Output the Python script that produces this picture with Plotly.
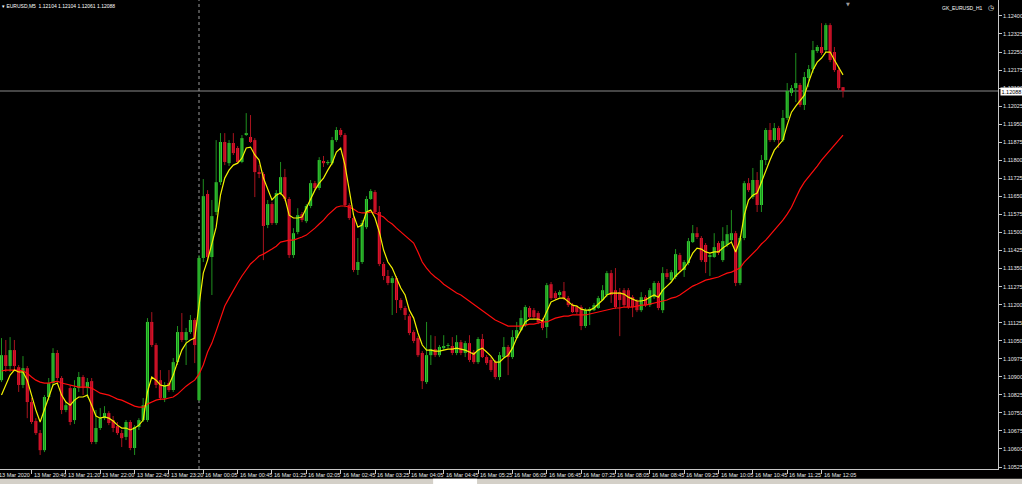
import plotly.graph_objects as go
import pandas as pd

symbol = "EURUSD,M5"
indicator_name = "GK_EURUSD_H1"

open_ = [1.10886,1.10990,1.10945,1.11011,1.10940,1.10866,1.10936,1.10795,1.10716,1.10666,
1.10595,1.10816,1.10874,1.10999,1.10895,1.10762,1.10853,1.10720,1.10853,1.10899,
1.10853,1.10882,1.10629,1.10687,1.10728,1.10749,1.10720,1.10695,1.10666,1.10650,
1.10712,1.10604,1.10691,1.10720,1.10720,1.11128,1.11032,1.10886,1.10812,1.10874,
1.10845,1.10961,1.11086,1.11053,1.11086,1.11136,1.10803,1.11394,1.11660,1.11398,
1.11585,1.11709,1.11876,1.11788,1.11872,1.11851,1.11793,1.11905,1.11897,1.11884,
1.11751,1.11743,1.11531,1.11618,1.11539,1.11664,1.11730,1.11639,1.11406,1.11502,
1.11576,1.11547,1.11610,1.11705,1.11685,1.11797,1.11788,1.11788,1.11884,1.11926,
1.11905,1.11614,1.11560,1.11344,1.11377,1.11522,1.11639,1.11668,1.11585,1.11369,
1.11319,1.11290,1.11310,1.11219,1.11186,1.11152,1.11086,1.11061,1.10999,1.10878,
1.10990,1.11015,1.10990,1.11019,1.11028,1.11028,1.10999,1.11044,1.10999,1.11040,
1.11003,1.10961,1.11057,1.10982,1.10970,1.10961,1.10899,1.10982,1.11024,1.10982,
1.11061,1.11094,1.11115,1.11186,1.11177,1.11165,1.11136,1.11107,1.11285,1.11248,
1.11240,1.11256,1.11227,1.11198,1.11190,1.11190,1.11111,1.11173,1.11177,1.11186,
1.11219,1.11240,1.11331,1.11260,1.11252,1.11260,1.11260,1.11231,1.11215,1.11177,
1.11231,1.11198,1.11231,1.11290,1.11177,1.11331,1.11302,1.11315,1.11406,1.11344,
1.11373,1.11460,1.11497,1.11477,1.11448,1.11398,1.11398,1.11456,1.11385,1.11448,
1.11468,1.11497,1.11290,1.11477,1.11705,1.11647,1.11718,1.11614,1.11801,1.11926,
1.11884,1.11934,1.11884,1.11976,1.12080,1.12100,1.12113,1.12030,1.12142,1.12179,
1.12254,1.12271,1.12258,1.12362,1.12250,1.12175,1.12104]

high = [1.11061,1.11053,1.11065,1.11053,1.10949,1.10986,1.10945,1.10812,1.10728,1.10679,
1.10824,1.10895,1.11019,1.11011,1.10903,1.10795,1.10866,1.10886,1.10920,1.10907,
1.10895,1.10895,1.10762,1.10770,1.10778,1.10757,1.10737,1.10712,1.10679,1.10720,
1.10720,1.10699,1.10728,1.10812,1.11144,1.11169,1.11040,1.10928,1.10878,1.10928,
1.10978,1.11111,1.11165,1.11103,1.11157,1.11144,1.11406,1.11722,1.11676,1.11635,
1.11884,1.11913,1.11913,1.11884,1.11913,1.11859,1.11905,1.11996,1.11988,1.11892,
1.11780,1.11751,1.11635,1.11626,1.11676,1.11793,1.11764,1.11647,1.11518,1.11601,
1.11585,1.11618,1.11718,1.11714,1.11813,1.11818,1.11801,1.11897,1.11938,1.11934,
1.11913,1.11622,1.11568,1.11477,1.11552,1.11651,1.11680,1.11676,1.11610,1.11377,
1.11344,1.11319,1.11319,1.11227,1.11194,1.11161,1.11094,1.11069,1.11007,1.11128,
1.11073,1.11069,1.11032,1.11073,1.11040,1.11065,1.11073,1.11053,1.11049,1.11073,
1.11011,1.11065,1.11078,1.10990,1.10982,1.10970,1.11003,1.11065,1.11032,1.11094,
1.11128,1.11177,1.11198,1.11194,1.11186,1.11173,1.11144,1.11290,1.11294,1.11256,
1.11260,1.11294,1.11236,1.11207,1.11198,1.11198,1.11186,1.11190,1.11207,1.11236,
1.11281,1.11340,1.11344,1.11352,1.11269,1.11269,1.11269,1.11240,1.11223,1.11252,
1.11240,1.11269,1.11298,1.11298,1.11356,1.11348,1.11344,1.11431,1.11415,1.11385,
1.11477,1.11531,1.11522,1.11485,1.11456,1.11415,1.11497,1.11464,1.11522,1.11531,
1.11593,1.11506,1.11485,1.11714,1.11726,1.11768,1.11751,1.11822,1.11934,1.11955,
1.11955,1.11943,1.12009,1.12121,1.12113,1.12246,1.12121,1.12167,1.12196,1.12296,
1.12279,1.12370,1.12370,1.12370,1.12271,1.12188,1.12104]

low = [1.10878,1.10920,1.10920,1.10928,1.10837,1.10853,1.10728,1.10704,1.10658,1.10575,
1.10587,1.10803,1.10861,1.10886,1.10745,1.10753,1.10699,1.10704,1.10837,1.10824,
1.10812,1.10620,1.10620,1.10679,1.10720,1.10699,1.10670,1.10658,1.10608,1.10637,
1.10595,1.10575,1.10679,1.10712,1.10712,1.11024,1.10853,1.10803,1.10795,1.10837,
1.10837,1.10949,1.11044,1.10949,1.11078,1.10957,1.10799,1.11377,1.11385,1.11240,
1.11572,1.11697,1.11780,1.11776,1.11822,1.11784,1.11788,1.11901,1.11872,1.11647,
1.11726,1.11385,1.11518,1.11531,1.11531,1.11655,1.11630,1.11394,1.11394,1.11493,
1.11543,1.11539,1.11601,1.11676,1.11676,1.11772,1.11780,1.11780,1.11876,1.11897,
1.11605,1.11552,1.11335,1.11323,1.11369,1.11514,1.11635,1.11576,1.11360,1.11302,
1.11281,1.11157,1.11165,1.11177,1.11136,1.11073,1.11040,1.10982,1.10849,1.10870,
1.10949,1.10982,1.10982,1.11011,1.11019,1.10990,1.10990,1.10990,1.10982,1.10961,
1.10953,1.10953,1.10978,1.10949,1.10920,1.10890,1.10886,1.10978,1.10907,1.10974,
1.11057,1.11090,1.11107,1.11144,1.11140,1.11119,1.11094,1.11061,1.11219,1.11219,
1.11231,1.11219,1.11190,1.11165,1.11161,1.11094,1.11103,1.11115,1.11173,1.11182,
1.11215,1.11231,1.11207,1.11182,1.11069,1.11190,1.11182,1.11148,1.11169,1.11169,
1.11190,1.11190,1.11223,1.11177,1.11165,1.11306,1.11294,1.11306,1.11335,1.11315,
1.11364,1.11456,1.11473,1.11377,1.11331,1.11319,1.11394,1.11406,1.11377,1.11439,
1.11460,1.11277,1.11281,1.11468,1.11668,1.11639,1.11585,1.11585,1.11780,1.11876,
1.11876,1.11851,1.11876,1.11967,1.12067,1.12042,1.12021,1.12009,1.12104,1.12163,
1.12246,1.12238,1.12250,1.12208,1.12167,1.12092,1.12061]

close = [1.10990,1.10945,1.11011,1.10945,1.10866,1.10936,1.10795,1.10712,1.10666,1.10595,
1.10816,1.10874,1.10999,1.10895,1.10762,1.10782,1.10712,1.10853,1.10899,1.10853,
1.10878,1.10629,1.10687,1.10728,1.10749,1.10708,1.10687,1.10666,1.10645,1.10712,
1.10604,1.10691,1.10720,1.10782,1.11128,1.11032,1.10866,1.10812,1.10866,1.10845,
1.10961,1.11086,1.11053,1.11086,1.11136,1.11032,1.11394,1.11651,1.11398,1.11568,
1.11709,1.11876,1.11793,1.11872,1.11830,1.11793,1.11892,1.11913,1.11876,1.11751,
1.11743,1.11527,1.11618,1.11539,1.11664,1.11730,1.11639,1.11406,1.11497,1.11572,
1.11552,1.11610,1.11705,1.11685,1.11801,1.11788,1.11793,1.11884,1.11926,1.11905,
1.11614,1.11560,1.11344,1.11377,1.11539,1.11639,1.11672,1.11585,1.11369,1.11319,
1.11290,1.11310,1.11219,1.11186,1.11157,1.11082,1.11049,1.10990,1.10882,1.10990,
1.11015,1.10990,1.11024,1.11028,1.11032,1.10999,1.11044,1.10999,1.11040,1.10970,
1.10961,1.11057,1.10982,1.10957,1.10928,1.10899,1.10990,1.11024,1.10982,1.11065,
1.11094,1.11144,1.11190,1.11148,1.11148,1.11128,1.11103,1.11281,1.11227,1.11227,
1.11252,1.11227,1.11198,1.11169,1.11169,1.11111,1.11177,1.11182,1.11198,1.11227,
1.11260,1.11331,1.11240,1.11190,1.11219,1.11198,1.11190,1.11190,1.11177,1.11231,
1.11198,1.11260,1.11290,1.11186,1.11331,1.11315,1.11335,1.11410,1.11344,1.11377,
1.11464,1.11497,1.11481,1.11385,1.11377,1.11406,1.11439,1.11415,1.11464,1.11493,
1.11497,1.11290,1.11477,1.11705,1.11676,1.11718,1.11614,1.11801,1.11926,1.11884,
1.11934,1.11884,1.11976,1.12088,1.12100,1.12121,1.12030,1.12146,1.12179,1.12258,
1.12271,1.12246,1.12362,1.12217,1.12175,1.12100,1.12088]

ma_fast = [1.10824,1.10866,1.10907,1.10928,1.10920,1.10920,1.10886,1.10824,1.10762,1.10712,
1.10762,1.10820,1.10866,1.10874,1.10824,1.10795,1.10782,1.10803,1.10816,1.10816,
1.10824,1.10782,1.10737,1.10728,1.10733,1.10728,1.10716,1.10699,1.10687,1.10687,
1.10679,1.10687,1.10699,1.10720,1.10837,1.10899,1.10886,1.10866,1.10861,1.10866,
1.10907,1.10961,1.11011,1.11040,1.11053,1.11061,1.11206,1.11331,1.11385,1.11448,
1.11522,1.11655,1.11726,1.11759,1.11780,1.11788,1.11809,1.11851,1.11855,1.11822,
1.11801,1.11726,1.11676,1.11635,1.11655,1.11664,1.11643,1.11572,1.11560,1.11560,
1.11564,1.11601,1.11643,1.11676,1.11705,1.11726,1.11759,1.11788,1.11834,1.11851,
1.11780,1.11676,1.11572,1.11522,1.11531,1.11585,1.11593,1.11560,1.11502,1.11427,
1.11377,1.11352,1.11310,1.11269,1.11240,1.11177,1.11144,1.11082,1.11032,1.11011,
1.11011,1.11007,1.11007,1.11011,1.11015,1.11015,1.11019,1.11015,1.11011,1.11003,
1.10994,1.11011,1.11019,1.11003,1.10986,1.10961,1.10961,1.10978,1.10990,1.11019,
1.11061,1.11094,1.11128,1.11140,1.11140,1.11140,1.11132,1.11169,1.11211,1.11219,
1.11227,1.11227,1.11211,1.11198,1.11194,1.11181,1.11177,1.11177,1.11186,1.11202,
1.11219,1.11240,1.11248,1.11248,1.11248,1.11244,1.11231,1.11223,1.11215,1.11215,
1.11219,1.11231,1.11240,1.11231,1.11260,1.11277,1.11294,1.11319,1.11335,1.11352,
1.11377,1.11414,1.11435,1.11431,1.11419,1.11414,1.11419,1.11419,1.11435,1.11448,
1.11460,1.11419,1.11468,1.11572,1.11635,1.11655,1.11664,1.11709,1.11759,1.11801,
1.11842,1.11863,1.11884,1.11946,1.12000,1.12025,1.12050,1.12071,1.12125,1.12175,
1.12208,1.12225,1.12250,1.12250,1.12217,1.12188,1.12155]

ma_slow = [1.10924,1.10928,1.10928,1.10928,1.10928,1.10924,1.10915,1.10899,1.10886,1.10878,
1.10874,1.10874,1.10878,1.10882,1.10874,1.10870,1.10866,1.10861,1.10857,1.10857,
1.10857,1.10853,1.10841,1.10832,1.10828,1.10824,1.10816,1.10807,1.10803,1.10795,
1.10787,1.10778,1.10774,1.10774,1.10787,1.10795,1.10803,1.10807,1.10807,1.10812,
1.10816,1.10828,1.10845,1.10861,1.10874,1.10886,1.10911,1.10949,1.11003,1.11040,
1.11090,1.11144,1.11194,1.11227,1.11260,1.11290,1.11319,1.11344,1.11369,1.11385,
1.11402,1.11410,1.11419,1.11431,1.11443,1.11460,1.11464,1.11468,1.11468,1.11473,
1.11481,1.11489,1.11502,1.11518,1.11535,1.11551,1.11572,1.11589,1.11605,1.11610,
1.11610,1.11605,1.11597,1.11585,1.11581,1.11581,1.11585,1.11581,1.11572,1.11564,
1.11547,1.11535,1.11518,1.11502,1.11485,1.11473,1.11456,1.11419,1.11377,1.11352,
1.11331,1.11315,1.11302,1.11285,1.11273,1.11260,1.11248,1.11240,1.11227,1.11215,
1.11202,1.11190,1.11177,1.11165,1.11152,1.11136,1.11128,1.11119,1.11111,1.11111,
1.11111,1.11111,1.11115,1.11119,1.11119,1.11123,1.11128,1.11128,1.11136,1.11144,
1.11148,1.11152,1.11152,1.11157,1.11157,1.11157,1.11157,1.11161,1.11165,1.11169,
1.11173,1.11177,1.11181,1.11186,1.11186,1.11190,1.11190,1.11190,1.11194,1.11198,
1.11198,1.11202,1.11206,1.11211,1.11215,1.11219,1.11227,1.11231,1.11240,1.11252,
1.11265,1.11277,1.11285,1.11294,1.11302,1.11306,1.11310,1.11315,1.11323,1.11331,
1.11335,1.11344,1.11352,1.11377,1.11394,1.11414,1.11431,1.11452,1.11468,1.11489,
1.11510,1.11527,1.11551,1.11576,1.11605,1.11643,1.11680,1.11709,1.11730,1.11751,
1.11776,1.11801,1.11822,1.11842,1.11863,1.11884,1.11905]

bar_times = (list(pd.date_range("2020-03-13 20:05", "2020-03-13 23:50", freq="5min")) +
             list(pd.date_range("2020-03-16 00:00", "2020-03-16 12:30", freq="5min")))

x_tick_labels = ["13 Mar 20:40", "13 Mar 21:20", "13 Mar 22:00", "13 Mar 22:40", "13 Mar 23:20",
                 "16 Mar 00:05", "16 Mar 00:45", "16 Mar 01:25", "16 Mar 02:05", "16 Mar 02:45",
                 "16 Mar 03:25", "16 Mar 04:05", "16 Mar 04:45", "16 Mar 05:25", "16 Mar 06:05",
                 "16 Mar 06:45", "16 Mar 07:25", "16 Mar 08:05", "16 Mar 08:45", "16 Mar 09:25",
                 "16 Mar 10:05", "16 Mar 10:45", "16 Mar 11:25", "16 Mar 12:05"]
first_date_label = "13 Mar 2020"

y_tick_labels = ["1.10525", "1.10600", "1.10675", "1.10750", "1.10825", "1.10900", "1.10975",
                 "1.11050", "1.11125", "1.11200", "1.11275", "1.11350", "1.11425", "1.11500",
                 "1.11575", "1.11650", "1.11725", "1.11800", "1.11875", "1.11950", "1.12025",
                 "1.12100", "1.12175", "1.12250", "1.12325", "1.12400"]

# ---------------------------------------------------------------
n = len(close)
idx = list(range(n))
time_str = [t.strftime("%d %b %H:%M") for t in bar_times]
x_tick_pos = [time_str.index(s) for s in x_tick_labels]
sep_index = next(i for i in range(1, n) if bar_times[i].date() != bar_times[i - 1].date())

UP_BODY, UP_WICK = "#32CD32", "#1f8f1f"
DN_BODY, DN_WICK = "#E8102E", "#a8141e"

fig = go.Figure()

for up, col in ((True, UP_WICK), (False, DN_WICK)):
    wx, wy = [], []
    for i in idx:
        if (close[i] >= open_[i]) == up:
            wx += [i, i, None]
            wy += [low[i], high[i], None]
    fig.add_trace(go.Scatter(x=wx, y=wy, mode="lines", line=dict(color=col, width=1),
                             hoverinfo="skip", showlegend=False))

base = [min(o, c) for o, c in zip(open_, close)]
height = [max(abs(c - o), 0.000012) for o, c in zip(open_, close)]
colors = [UP_BODY if c >= o else DN_BODY for o, c in zip(open_, close)]
fig.add_trace(go.Bar(x=idx, y=height, base=base, width=0.72,
                     marker=dict(color=colors, line=dict(width=0)),
                     hoverinfo="skip", showlegend=False))

fig.add_trace(go.Scatter(x=idx, y=ma_slow, mode="lines", line=dict(color="#ff0d0d", width=1.2),
                         hoverinfo="skip", showlegend=False))
fig.add_trace(go.Scatter(x=idx, y=ma_fast, mode="lines", line=dict(color="#f2f200", width=1.2),
                         hoverinfo="skip", showlegend=False))

current_price = close[-1]
axis_col = "#c8c8c8"
font_fam = "Liberation Sans"

fig.update_layout(
    width=1022, height=484, autosize=False,
    margin=dict(l=0, r=24, t=0, b=15),
    paper_bgcolor="black", plot_bgcolor="black",
    showlegend=False, hovermode=False, barmode="overlay",
    font=dict(family=font_fam, size=6, color="white"),
)
fig.update_xaxes(range=[-0.35, 232.1], showgrid=False, zeroline=False,
                 showline=True, linecolor=axis_col, linewidth=1,
                 ticks="outside", ticklen=4, tickcolor=axis_col, tickwidth=1,
                 tickvals=x_tick_pos, showticklabels=False, fixedrange=True)
fig.update_yaxes(side="right", range=[1.105167, 1.124663], showgrid=False, zeroline=False,
                 showline=True, linecolor=axis_col, linewidth=1,
                 ticks="outside", ticklen=3, tickcolor=axis_col, tickwidth=1,
                 tickvals=[float(s) for s in y_tick_labels], ticktext=y_tick_labels,
                 tickfont=dict(family=font_fam, size=5.5, color="#e8e8e8"), fixedrange=True)

shapes = [
    dict(type="line", xref="paper", x0=0, x1=1, yref="y", y0=current_price, y1=current_price,
         line=dict(color="#8a8a8a", width=1), layer="below"),
    dict(type="line", xref="x", x0=sep_index, x1=sep_index, yref="paper", y0=0, y1=1,
         line=dict(color="#9a9a9a", width=1, dash="dot"), layer="below"),
    dict(type="rect", xref="paper", x0=0, x1=1.03, yref="paper", y0=-0.021, y1=-0.04,
         fillcolor="#d4d0c8", line=dict(width=0)),
    dict(type="rect", xref="paper", x0=0.434, x1=0.478, yref="paper", y0=-0.021, y1=-0.04,
         fillcolor="#ffffff", line=dict(width=0)),
]
fig.update_layout(shapes=shapes)

ann = []
for pos, lab in zip(x_tick_pos, x_tick_labels):
    ann.append(dict(x=pos, xref="x", y=0, yref="paper", yanchor="top", xanchor="left",
                    xshift=0, yshift=-1, text=lab, showarrow=False,
                    font=dict(family=font_fam, size=5.5, color="#e8e8e8")))
ann.append(dict(x=0, xref="paper", y=0, yref="paper", yanchor="top", xanchor="left",
                xshift=-3, yshift=-1, text=first_date_label, showarrow=False,
                font=dict(family=font_fam, size=5.5, color="#e8e8e8")))
title_txt = "▾ {}  {:.5f} {:.5f} {:.5f} {:.5f}".format(symbol, open_[-1], high[-1], low[-1], close[-1])
ann.append(dict(x=0, xref="paper", y=1, yref="paper", xanchor="left", yanchor="top",
                xshift=0, yshift=-1, text=title_txt, showarrow=False,
                font=dict(family=font_fam, size=5, color="white")))
ann.append(dict(x=0.987, xref="paper", y=1, yref="paper", xanchor="right", yanchor="top",
                yshift=-3, text=indicator_name, showarrow=False,
                font=dict(family=font_fam, size=5, color="white")))
ann.append(dict(x=0.988, xref="paper", y=1, yref="paper", xanchor="left", yanchor="top",
                yshift=-2, text="◷", showarrow=False,
                font=dict(family="DejaVu Sans", size=7, color="white")))
ann.append(dict(x=0.8497, xref="paper", y=1, yref="paper", xanchor="center", yanchor="top",
                yshift=1, text="▼", showarrow=False,
                font=dict(family="DejaVu Sans", size=5, color="#9a9a9a")))
ann.append(dict(x=1, xref="paper", y=current_price, yref="y", xanchor="left", yanchor="middle",
                xshift=2, text="{:.5f}".format(current_price), showarrow=False,
                bgcolor="white", borderpad=0.5,
                font=dict(family=font_fam, size=5.5, color="black")))
fig.update_layout(annotations=ann)

fig.write_html("out.html", config={"displayModeBar": False, "staticPlot": True},
               post_script="document.body.style.margin='0';document.body.style.overflow='hidden';")
